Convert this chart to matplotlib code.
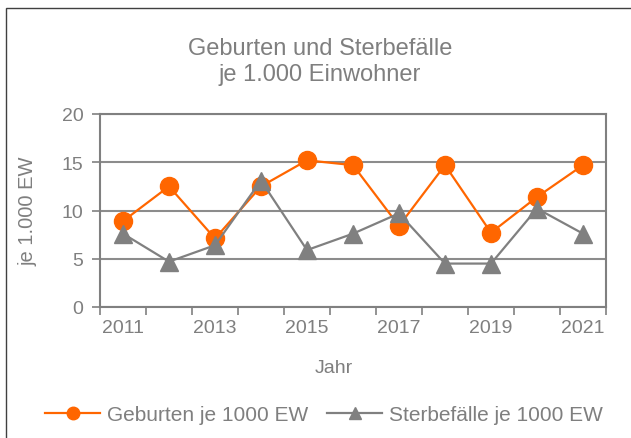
import matplotlib
matplotlib.use("Agg")
import matplotlib.pyplot as plt
from matplotlib.lines import Line2D
from matplotlib.patches import Rectangle

years = [2011, 2012, 2013, 2014, 2015, 2016, 2017, 2018, 2019, 2020, 2021]
geburten = [8.9, 12.5, 7.1, 12.5, 15.2, 14.7, 8.4, 14.7, 7.7, 11.4, 14.7]
sterbefaelle = [7.6, 4.7, 6.4, 13.1, 5.9, 7.6, 9.7, 4.5, 4.5, 10.2, 7.6]
y_ticks = [0, 5, 10, 15, 20]

ORANGE = "#FF6600"
GRAY = "#808080"
TEXT = "#7F7F7F"
GRID = "#8C8C8C"

plt.rcParams['font.family'] = ['Liberation Sans', 'DejaVu Sans']

W, H = 631, 439
fig = plt.figure(figsize=(W / 100, H / 100), dpi=100)

# outer chart border
fig.patches.append(Rectangle((6 / W, -0.05), 1.0, 1 - 9 / H + 0.05, transform=fig.transFigure,
                             fill=False, edgecolor="#404040", linewidth=1.0))

left, right, top, bottom = 100, 606, 115, 308
ax = fig.add_axes([left / W, 1 - bottom / H, (right - left) / W, (bottom - top) / H])

x = list(range(len(years)))
ax.plot(x, geburten, color=ORANGE, linewidth=1.6, marker="o", markersize=13,
        markerfacecolor=ORANGE, markeredgecolor=ORANGE, zorder=3)
ax.plot(x, sterbefaelle, color=GRAY, linewidth=1.6, marker="^", markersize=13,
        markerfacecolor=GRAY, markeredgecolor=GRAY, zorder=4)

ax.set_xlim(-0.5, len(years) - 0.5)
ax.set_ylim(0, 20)
ax.set_yticks(y_ticks)
ax.set_yticklabels([str(v) for v in y_ticks])
ax.yaxis.grid(True, color=GRID, linewidth=1.5)
ax.set_axisbelow(True)

# category axis: ticks at boundaries, labels every other year
ax.set_xticks([i - 0.5 for i in range(len(years) + 1)])
ax.set_xticklabels([])
ax.set_xticks(x[::2], minor=True)
ax.set_xticklabels([str(y) for y in years[::2]], minor=True)
ax.tick_params(axis="x", which="minor", length=0, pad=9, labelsize=14, labelcolor=TEXT)
ax.tick_params(axis="x", which="major", length=6, width=1.2, color=GRAY)
ax.tick_params(axis="y", length=6, width=1.2, color=GRAY, labelsize=14, labelcolor=TEXT, pad=6)

for s in ax.spines.values():
    s.set_color(GRAY)
    s.set_linewidth(1.5)

ax.set_ylabel("je 1.000 EW", fontsize=14.5, color=TEXT)
ax.yaxis.set_label_coords((37 - left) / (right - left), 0.5)
ax.set_xlabel("Jahr", fontsize=14, color=TEXT)
ax.xaxis.set_label_coords((334 - left) / (right - left), (bottom - 369) / (bottom - top))
ax.xaxis.label.set_va("center")

fig.text(320 / W, 1 - 62 / H, "Geburten und Sterbefälle\nje 1.000 Einwohner", ha="center",
         va="center", fontsize=17, color=TEXT, linespacing=1.25)

handles = [
    Line2D([], [], color=ORANGE, linewidth=1.6, marker="o", markersize=9,
           markerfacecolor=ORANGE, markeredgecolor=ORANGE),
    Line2D([], [], color=GRAY, linewidth=1.6, marker="^", markersize=9,
           markerfacecolor=GRAY, markeredgecolor=GRAY),
]
leg = fig.legend(handles, ["Geburten je 1000 EW", "Sterbefälle je 1000 EW"], loc="center",
                 bbox_to_anchor=(324 / W, 1 - 416 / H), ncol=2, frameon=False, fontsize=15,
                 handlelength=2.65, handletextpad=0.33, columnspacing=0.9, labelcolor=TEXT,
                 borderpad=0, borderaxespad=0)

fig.savefig("out.png", dpi=100)
